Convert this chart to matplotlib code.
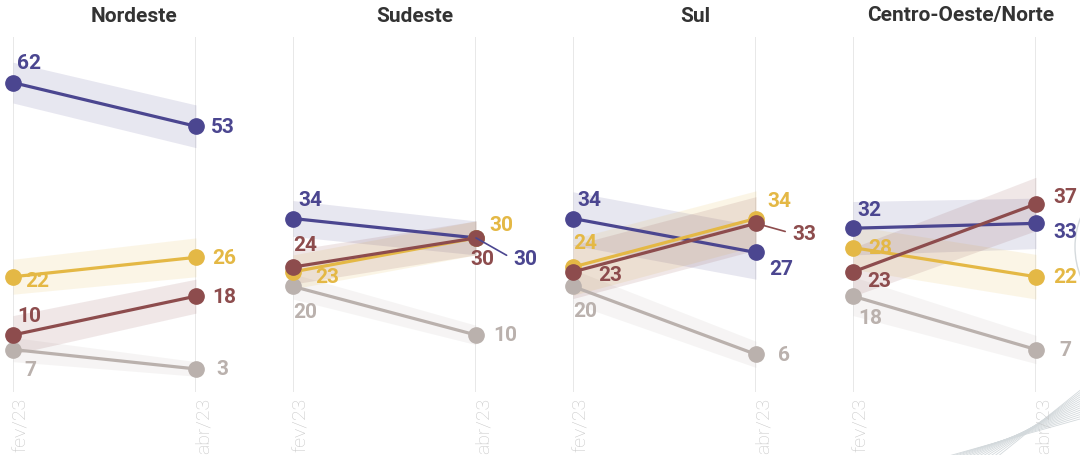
import numpy as np
import matplotlib
matplotlib.use("Agg")
import matplotlib.pyplot as plt
from matplotlib.patches import Arc

# ==== DADOS ====
PERIODOS = ["fev/23", "abr/23"]
REGIOES = ["Nordeste", "Sudeste", "Sul", "Centro-Oeste/Norte"]

# valores (%) por região: [fev/23, abr/23]
roxo = [[62, 53], [34, 30], [34, 27], [32, 33]]
amarelo = [[22, 26], [23, 30], [24, 34], [28, 22]]
vermelho = [[10, 18], [24, 30], [23, 33], [23, 37]]
cinza = [[7, 3], [20, 10], [20, 6], [18, 7]]

# margem de erro (pontos percentuais) por região: [fev/23, abr/23]
roxo_me = [[4.2, 4.4], [3.7, 3.5], [5.5, 5.5], [5.5, 5.2]]
amarelo_me = [[3.6, 4.0], [3.5, 3.5], [5.8, 5.7], [4.5, 4.6]]
vermelho_me = [[4.0, 3.5], [3.5, 3.5], [5.5, 5.5], [5.0, 5.5]]
cinza_me = [[2.5, 1.5], [2.6, 2.0], [3.5, 2.7], [4.0, 2.9]]

# ==== ESTILO ====
CORES = {
    "roxo": "#4b4690",
    "amarelo": "#e4b845",
    "vermelho": "#8d4c4d",
    "cinza": "#bab1ad",
}
SERIES = [  # ordem de desenho (de baixo para cima)
    ("cinza", cinza, cinza_me),
    ("roxo", roxo, roxo_me),
    ("amarelo", amarelo, amarelo_me),
    ("vermelho", vermelho, vermelho_me),
]

# deslocamento dos rótulos em pixels (dx, dy), dy positivo = para cima; True = linha guia
ROTULOS = {
    0: {"roxo": [(4, 20), (15, 0)], "amarelo": [(12, -4), (16, 0)],
        "vermelho": [(4, 19), (16, 0)], "cinza": [(11, -20), (20, 0)]},
    1: {"roxo": [(5, 19), (37, -21, True)], "amarelo": [(22, -5), (13, 13)],
        "vermelho": [(0, 23), (-6, -21)], "cinza": [(0, -25), (17, 0)]},
    2: {"roxo": [(4, 19), (13, -16)], "amarelo": [(0, 25), (11, 18)],
        "vermelho": [(25, -3), (36, -10, True)], "cinza": [(0, -24), (22, 0)]},
    3: {"roxo": [(4, 19), (17, -8)], "amarelo": [(15, 0), (17, 0)],
        "vermelho": [(14, -9), (17, 7)], "cinza": [(5, -21), (23, 0)]},
}
TITULO_X = [134.5, 414.5, 695, 961]

plt.rcParams["font.family"] = ["Roboto", "DejaVu Sans"]

W, H = 1080, 456
fig = plt.figure(figsize=(W / 100, H / 100), dpi=100)

x = np.array([0, 1])
for i, regiao in enumerate(REGIOES):
    left = 13 + 280 * i
    ax = fig.add_axes([left / W, 63 / H, 183 / W, 355 / H])
    ax.set_xlim(0, 1)
    ax.set_ylim(-1.75, 71.4)
    ax.axis("off")

    for xv in x:
        ax.axvline(xv, color="#e6e6e6", lw=1.3, zorder=0)

    for nome, vals, me in SERIES:
        v = np.array(vals[i], dtype=float)
        m = np.array(me[i], dtype=float)
        cor = CORES[nome]
        ax.fill_between(x, v - m, v + m, color=cor, alpha=0.13, lw=0, zorder=1)
        ax.plot(x, v, "-o", color=cor, lw=2.3, markersize=11, zorder=3,
                clip_on=False)

    for nome, vals, me in SERIES:
        cor = CORES[nome]
        for j in range(2):
            off = ROTULOS[i][nome][j]
            guia = len(off) > 2 and off[2]
            kw = {}
            if guia:
                kw["arrowprops"] = dict(arrowstyle="-", color=cor, lw=1.2,
                                        shrinkA=3, shrinkB=0, relpos=(0, 0.5))
            ax.annotate(str(vals[i][j]), xy=(x[j], vals[i][j]),
                        xytext=(off[0], off[1]), textcoords="offset pixels",
                        ha="left", va="center", fontsize=15,
                        fontweight="bold", color=cor, zorder=5,
                        annotation_clip=False, **kw)

    for j, per in enumerate(PERIODOS):
        ax.annotate(per, xy=(x[j], 0), xycoords=("data", "axes fraction"),
                    xytext=(-1, -5), textcoords="offset pixels", rotation=90,
                    ha="left", va="top", fontsize=14, fontweight="light",
                    color="#c8c8c8", annotation_clip=False)

    fig.text(TITULO_X[i] / W, 1 - 16 / H, regiao, ha="center", va="center",
             fontsize=15, fontweight="bold", color="#333333")

# sobreposição decorativa no canto inferior direito
ov = fig.add_axes([0, 0, 1, 1], zorder=-1)
ov.set_xlim(0, W)
ov.set_ylim(H, 0)
ov.axis("off")
ov.add_patch(Arc((1145, 248), 140, 150, theta1=130, theta2=230,
                 color="#d5dadd", lw=1.0))
for k in range(14):
    ov.plot([945 + 4 * k, 1080], [458, 420 - 2.2 * k], color="#d3d9dc",
            lw=0.6)

fig.savefig("out.png", dpi=100, facecolor="white")
